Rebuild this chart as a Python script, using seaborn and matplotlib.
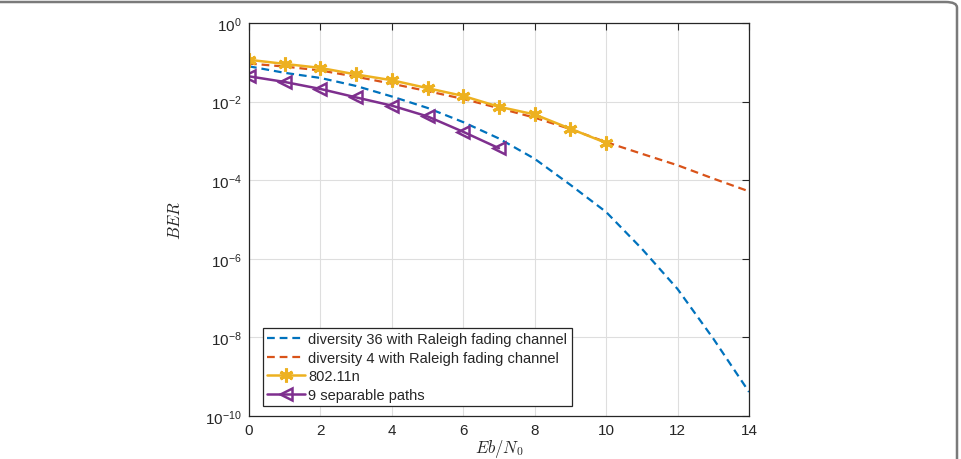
import numpy as np
import pandas as pd
import matplotlib
matplotlib.use("Agg")
import matplotlib.pyplot as plt
from matplotlib.patches import FancyBboxPatch
import seaborn as sns

# -------------------- DATA --------------------
snr_full = [0, 1, 2, 3, 4, 5, 6, 7, 8, 9, 10, 11, 12, 13, 14]
ber_div36 = [7.9e-2, 5.4e-2, 4.0e-2, 2.5e-2, 1.35e-2, 6.9e-3, 3.0e-3, 1.15e-3,
             3.5e-4, 7.6e-5, 1.55e-5, 1.8e-6, 1.7e-7, 9.3e-9, 4.1e-10]
ber_div4 = [9.3e-2, 7.8e-2, 6.2e-2, 4.3e-2, 2.85e-2, 1.85e-2, 1.17e-2, 6.8e-3,
            3.9e-3, 2.0e-3, 9.3e-4, 4.7e-4, 2.4e-4, 1.1e-4, 5.2e-5]

snr_80211n = [0, 1, 2, 3, 4, 5, 6, 7, 8, 9, 10]
ber_80211n = [1.16e-1, 9.1e-2, 7.2e-2, 4.9e-2, 3.5e-2, 2.2e-2, 1.39e-2, 7.4e-3,
              4.7e-3, 2.04e-3, 8.9e-4]

snr_paths = [0, 1, 2, 3, 4, 5, 6, 7]
ber_paths = [4.4e-2, 3.16e-2, 2.1e-2, 1.28e-2, 7.9e-3, 4.2e-3, 1.7e-3, 6.5e-4]

labels = ["diversity 36 with Raleigh fading channel",
          "diversity 4 with Raleigh fading channel",
          "802.11n",
          "9 separable paths"]

# -------------------- STYLE --------------------
sns.set_style("white")
plt.rcParams['font.family'] = ['Liberation Sans', 'DejaVu Sans']
plt.rcParams['mathtext.fontset'] = 'custom'
plt.rcParams['mathtext.rm'] = 'Liberation Sans'
plt.rcParams['mathtext.it'] = 'Liberation Sans:italic'

blue, orange, yellow, purple = "#0072BD", "#D95319", "#EDB120", "#7E2F8E"
dash = (0, (3.5, 2.2))

fig = plt.figure(figsize=(9.62, 4.6), dpi=100)
ax = fig.add_axes([0.2588, 0.0935, 0.5198, 0.8543])

sns.lineplot(x=snr_full, y=ber_div36, ax=ax, color=blue, linestyle=dash,
             linewidth=1.6, label=labels[0])
sns.lineplot(x=snr_full, y=ber_div4, ax=ax, color=orange, linestyle=dash,
             linewidth=1.6, label=labels[1])
sns.lineplot(x=snr_80211n, y=ber_80211n, ax=ax, color=yellow, linewidth=1.8,
             marker=(6, 2, 0), markersize=10, markeredgewidth=2.2,
             markeredgecolor=yellow, label=labels[2])
sns.lineplot(x=snr_paths, y=ber_paths, ax=ax, color=purple, linewidth=1.8,
             marker="<", markersize=8, markerfacecolor="none",
             markeredgewidth=1.8, markeredgecolor=purple, label=labels[3])

ax.set_yscale("log")
ax.set_xlim(0, 14)
ax.set_ylim(1e-10, 1e0)
ax.set_xticks(np.arange(0, 15, 2))
ax.set_yticks([10.0 ** k for k in range(-10, 1, 2)])
ax.minorticks_off()
ax.yaxis.set_minor_locator(matplotlib.ticker.NullLocator())

ax.grid(True, color="#dedede", linewidth=0.8)
ax.tick_params(direction="in", length=5, width=0.8, top=True, right=True,
               labelsize=11, colors="#262626", pad=5)
for s in ax.spines.values():
    s.set_color("#262626")
    s.set_linewidth(0.9)

ax.set_xlabel("$Eb/N_0$", fontsize=12, math_fontfamily="cm", color="#262626",
              labelpad=0)
ax.set_ylabel("$BER$", fontsize=12, math_fontfamily="cm", color="#262626",
              labelpad=16)

leg = ax.legend(loc="lower left", bbox_to_anchor=(0.028, 0.025), borderaxespad=0,
                fontsize=10.5, frameon=True, fancybox=False, framealpha=1,
                edgecolor="#262626", handlelength=2.6, handletextpad=0.2,
                labelspacing=0.31, borderpad=0.3)
leg.get_frame().set_linewidth(0.9)

# outer journal frame (only top and right visible)
frame = FancyBboxPatch((-20 / 962, -20 / 460), (957 + 20) / 962, (457 + 20) / 460,
                       boxstyle="round,pad=0,rounding_size=0.012",
                       transform=fig.transFigure, facecolor="none",
                       edgecolor="#7a7a7a", linewidth=1.8, clip_on=False)
fig.patches.append(frame)

fig.savefig("out.png", dpi=100)
